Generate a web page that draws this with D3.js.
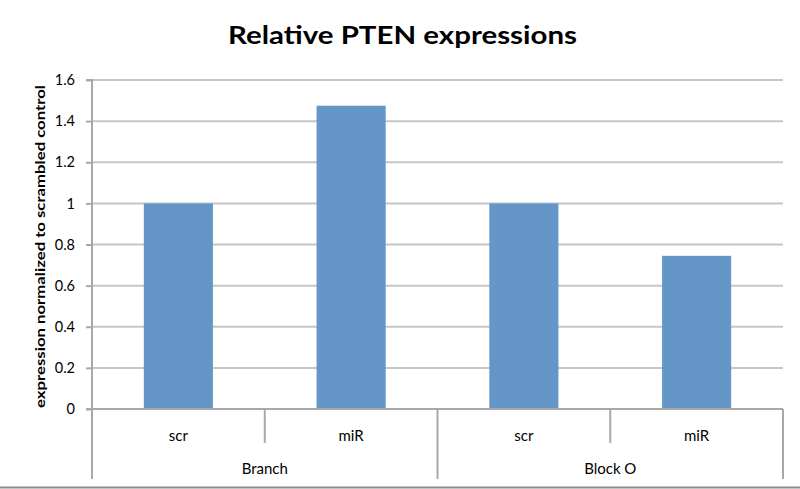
<!DOCTYPE html>
<html><head><meta charset="utf-8">
<script src="https://cdn.jsdelivr.net/npm/d3@7/dist/d3.min.js"></script>
<style>body{margin:0;background:#fff}svg{display:block}text{font-family:Lato,"Open Sans",sans-serif;fill:#000}</style>
</head><body><svg id="c" width="800" height="489"></svg>
<script>
const groups = ["Branch", "Block O"];
const subcats = ["scr", "miR", "scr", "miR"];
const values = [1.0, 1.475, 1.0, 0.745];
const yTicks = [0, 0.2, 0.4, 0.6, 0.8, 1, 1.2, 1.4, 1.6];
const title = "Relative PTEN expressions";
const yTitle = "expression normalized to scrambled control";

const svg = d3.select("#c");
const L = 92, R = 783, T = 80, B = 409;
const x = d3.scaleBand().domain(d3.range(values.length)).range([L, R]).paddingInner(0.6).paddingOuter(0.3);
const band = d3.scaleBand().domain(d3.range(values.length)).range([L, R]);
const gx = d3.scaleBand().domain(groups).range([L, R]);
const y = d3.scaleLinear().domain([0, 1.6]).range([B, T]);

// gridlines
svg.append("g").selectAll("line").data(yTicks.slice(1)).join("line")
  .attr("x1", L).attr("x2", R).attr("y1", d => y(d)).attr("y2", d => y(d))
  .attr("stroke", "#c6c6c6").attr("stroke-width", 2);

// y axis
const ya = svg.append("g").attr("transform", `translate(${L},0)`)
  .call(d3.axisLeft(y).tickValues(yTicks).tickSize(6).tickPadding(11).tickFormat(d => String(d)));
ya.select(".domain").attr("stroke", "#a8a8a8").attr("stroke-width", 2).attr("d", `M-6,${T}H0V${B+34}`);
ya.selectAll(".tick line").attr("stroke", "#a8a8a8").attr("stroke-width", 2);
ya.selectAll(".tick text").attr("font-size", 14.5).style("font-family", "Lato, sans-serif");

// bars
svg.append("g").selectAll("rect").data(values).join("rect")
  .attr("x", (d, i) => x(i)).attr("width", x.bandwidth())
  .attr("y", d => y(d)).attr("height", d => y(0) - y(d))
  .attr("fill", "#6497c8");

// x axis
const xa = svg.append("g").attr("stroke", "#a8a8a8").attr("stroke-width", 2);
xa.append("line").attr("x1", L - 6).attr("x2", R).attr("y1", B).attr("y2", B);
xa.selectAll("line.sub").data([1, 3]).join("line").attr("class", "sub")
  .attr("x1", i => band(i)).attr("x2", i => band(i)).attr("y1", B).attr("y2", 443);
xa.selectAll("line.grp").data([L, gx("Block O"), R]).join("line").attr("class", "grp")
  .attr("x1", d => d).attr("x2", d => d).attr("y1", B).attr("y2", 479);

svg.append("g").selectAll("text").data(subcats).join("text")
  .attr("x", (d, i) => band(i) + band.bandwidth() / 2).attr("y", 441)
  .attr("text-anchor", "middle").attr("font-size", 15).text(d => d);
svg.append("g").selectAll("text").data(groups).join("text")
  .attr("x", d => gx(d) + gx.bandwidth() / 2).attr("y", 474)
  .attr("text-anchor", "middle").attr("font-size", 15).text(d => d);

// titles
svg.append("text").attr("x", 402.5).attr("y", 44).attr("text-anchor", "middle")
  .attr("font-size", 24).attr("font-weight", "bold")
  .attr("textLength", 349).attr("lengthAdjust", "spacingAndGlyphs").text(title);
svg.append("text").attr("transform", `translate(45,${(85 + 408) / 2}) rotate(-90)`)
  .attr("text-anchor", "middle").attr("font-size", 14).attr("font-weight", "bold")
  .attr("textLength", 323).attr("lengthAdjust", "spacingAndGlyphs").text(yTitle);

// bottom border
svg.append("line").attr("x1", 0).attr("x2", 800).attr("y1", 487.5).attr("y2", 487.5)
  .attr("stroke", "#8c8c8c").attr("stroke-width", 2);
</script></body></html>
